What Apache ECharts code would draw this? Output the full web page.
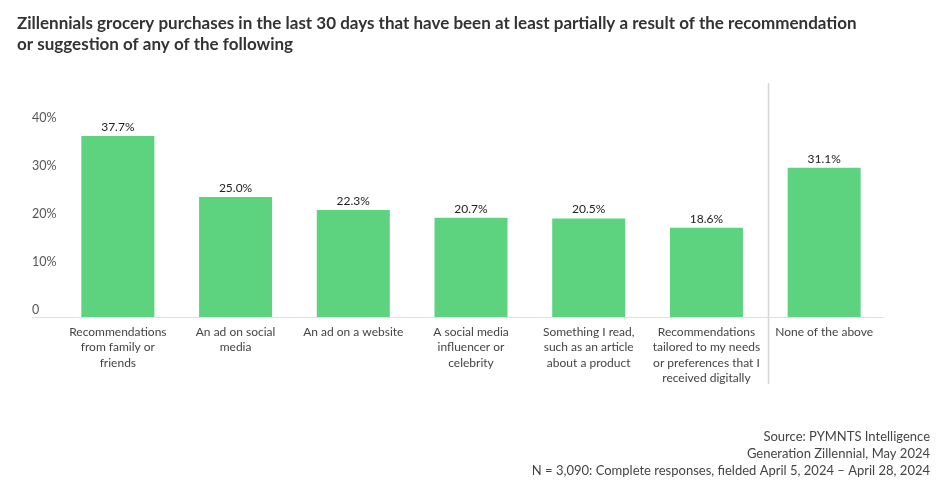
<!DOCTYPE html>
<html><head><meta charset="utf-8">
<script src="https://cdn.jsdelivr.net/npm/echarts@6/dist/echarts.min.js"></script>
<style>html,body{margin:0;padding:0;background:#fff}#c{width:936px;height:486px}</style>
</head><body><div id="c"></div>
<script>
const categories = [
  "Recommendations\nfrom family or\nfriends",
  "An ad on social\nmedia",
  "An ad on a website",
  "A social media\ninfluencer or\ncelebrity",
  "Something I read,\nsuch as an article\nabout a product",
  "Recommendations\ntailored to my needs\nor preferences that I\nreceived digitally",
  "None of the above"
];
const values = [37.7, 25.0, 22.3, 20.7, 20.5, 18.6, 31.1];
const yTicks = [0, 10, 20, 30, 40];
const titleText = "Zillennials grocery purchases in the last 30 days that have been at least partially a result of the recommendation\nor suggestion of any of the following";
const sourceLines = ["Source: PYMNTS Intelligence", "Generation Zillennial, May 2024", "N = 3,090: Complete responses, fielded April 5, 2024 \u2013 April 28, 2024"];

const FONT = "Lato, 'Noto Sans', sans-serif";
const chart = echarts.init(document.getElementById('c'));
chart.setOption({
  animation: false,
  textStyle: { fontFamily: FONT },
  title: {
    text: titleText, left: 12, top: 8,
    textStyle: { fontFamily: FONT, fontSize: 17, fontWeight: 'bold', color: '#333', lineHeight: 21 }
  },
  grid: { left: 59, right: 53, top: 125, bottom: 169 },
  xAxis: {
    type: 'category', data: categories,
    axisLine: { lineStyle: { color: '#e0e0e0', width: 1 } },
    axisTick: { show: false },
    axisLabel: { color: '#444', fontSize: 12, lineHeight: 15.5, margin: 7, interval: 0, fontFamily: FONT }
  },
  yAxis: {
    type: 'value', min: 0, max: 40, interval: 10,
    splitLine: { show: false },
    axisLine: { show: false }, axisTick: { show: false },
    axisLabel: {
      align: 'left', margin: 27, verticalAlign: 'bottom', padding: [0, 0, 1, 0],
      color: '#555', fontSize: 12.5, fontFamily: FONT,
      formatter: v => yTicks.indexOf(v) >= 0 ? (v === 0 ? '0' : v + '%') : ''
    }
  },
  series: [{
    type: 'bar', data: values, barWidth: 73,
    itemStyle: { color: '#5dd37f' },
    label: { show: true, position: 'top', distance: 3, color: '#222', fontSize: 12, fontFamily: FONT, formatter: p => p.value.toFixed(1) + '%' }
  }]
});
// divider between last two categories, located through the axis scale
const xa = chart.convertToPixel({ xAxisIndex: 0 }, categories.length - 2);
const xb = chart.convertToPixel({ xAxisIndex: 0 }, categories.length - 1);
const xd = Math.round((xa + xb) / 2) + 3.5;
chart.setOption({
  graphic: sourceLines.map((t, i) => ({
    type: 'text', right: 6, top: 430 + i * 17,
    style: { text: t, fill: '#444', font: "13px " + FONT, textAlign: 'right' }
  })).concat([{
    type: 'line', shape: { x1: xd, y1: 83, x2: xd, y2: 384 },
    style: { stroke: '#d6d6d6', lineWidth: 1.5 }
  }, {
    type: 'line', shape: { x1: 32, y1: 317.5, x2: 59, y2: 317.5 },
    style: { stroke: '#e0e0e0', lineWidth: 1 }
  }])
});
</script></body></html>
